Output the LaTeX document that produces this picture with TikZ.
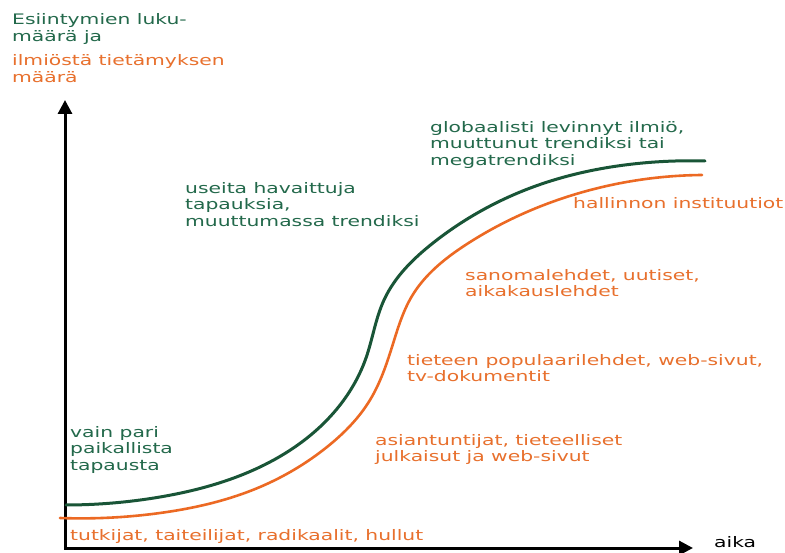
\documentclass[tikz,border=0pt]{standalone}
\usepackage{fontspec}
\setmainfont{DejaVu Sans}[FakeStretch=1.4]
\usetikzlibrary{arrows.meta,hobby}
\definecolor{gtext}{RGB}{35,105,75}
\definecolor{gline}{RGB}{25,85,55}
\definecolor{otext}{RGB}{232,112,45}
\definecolor{oline}{RGB}{236,105,35}
\tikzset{
  lbl/.style={anchor=north west, inner sep=0pt, align=left, font=\fontsize{14.5}{16.5}\selectfont},
  glbl/.style={lbl, text=gtext},
  olbl/.style={lbl, text=otext},
  axisline/.style={line width=3pt, black, line join=miter, {Triangle[length=14pt,width=14pt]}-{Triangle[length=14pt,width=14pt]}},
  gcurve/.style={line width=3pt, gline, line cap=round, use Hobby shortcut},
  ocurve/.style={line width=2.6pt, oline, line cap=round, use Hobby shortcut},
}
\begin{document}
\begin{tikzpicture}[x=1pt,y=-1pt]
\useasboundingbox (0,0) rectangle (785,553);
\fill[white] (0,0) rectangle (785,553);
% axes
\coordinate (origin) at (65,548);
\coordinate (ytip) at (65,100);
\coordinate (xtip) at (693,548);
\draw[axisline] (ytip) -- (origin) -- (xtip);
\node[anchor=base west, inner sep=0pt, font=\fontsize{14.5}{16.5}\selectfont] (aika) at (714,547) {aika};
% curves
\draw[gcurve] (66,505) .. (160,497) .. (260,467) .. (327,420) .. (366,358)
  .. (384,300) .. (433,243) .. (533,187) .. (633,164) .. (705,161);
\draw[ocurve] (60,518) .. (160,513) .. (260,487) .. (327,447) .. (370,400)
  .. (392,347) .. (412,296) .. (467,244) .. (583,192) .. (702,175);
% labels
\node[glbl, font=\fontsize{14.5}{17}\selectfont] (ytitle1) at (12,13) {Esiintymien luku-\\määrä ja};
\node[olbl, font=\fontsize{14.5}{17}\selectfont] (ytitle2) at (12,54) {ilmiöstä tietämyksen\\määrä};
\node[glbl] (glob) at (430,121) {globaalisti levinnyt ilmiö,\\muuttunut trendiksi tai\\megatrendiksi};
\node[glbl] (useita) at (185,182) {useita havaittuja\\tapauksia,\\muuttumassa trendiksi};
\node[olbl] (hall) at (573,197) {hallinnon instituutiot};
\node[olbl] (sanoma) at (465,269) {sanomalehdet, uutiset,\\aikakauslehdet};
\node[olbl] (tiet) at (407,354) {tieteen populaarilehdet, web-sivut,\\tv-dokumentit};
\node[olbl] (asian) at (375,434) {asiantuntijat, tieteelliset\\julkaisut ja web-sivut};
\node[glbl] (vain) at (70,426) {vain pari\\paikallista\\tapausta};
\node[olbl] (tutk) at (70,529) {tutkijat, taiteilijat, radikaalit, hullut};
\end{tikzpicture}
\end{document}
